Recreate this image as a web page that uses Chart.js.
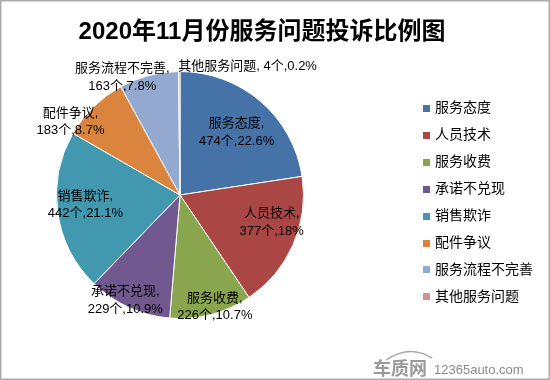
<!DOCTYPE html>
<html><head><meta charset="utf-8">
<script src="https://cdn.jsdelivr.net/npm/chart.js@4"></script>
<style>html,body{margin:0;padding:0;background:#fff}#wrap{width:550px;height:380px;position:relative}</style>
</head><body><div id="wrap"><canvas id="c" width="550" height="380"></canvas></div>
<script>
const titleText = '2020年11月份服务问题投诉比例图';
const categories = ['服务态度','人员技术','服务收费','承诺不兑现','销售欺诈','配件争议','服务流程不完善','其他服务问题'];
const counts = [474, 377, 226, 229, 442, 183, 163, 4];
const percentLabels = ['22.6%','18%','10.7%','10.9%','21.1%','8.7%','7.8%','0.2%'];
const sliceColors = ['#4572A7','#AA4643','#89A54E','#71588F','#4198AF','#DB843D','#93A9CF','#D19392'];
// label placement (fraction of radius, angular shift in degrees)
const labelRadius = [0.685, 0.775, 0.95, 0.963, 0.77, 1.065, 1.06, 1.04];
const labelAngleShift = [1.4, -7.1, -2.7, 2.95, 2, -12, -11.5, 0];

const FONT = "'Liberation Sans','Noto Sans CJK SC',sans-serif";

const decor = {
  id: 'decor',
  beforeDraw(chart) {
    const ctx = chart.ctx;
    ctx.save();
    ctx.fillStyle = '#fff';
    ctx.fillRect(0, 0, chart.width, chart.height);
    ctx.restore();
  },
  afterDatasetsDraw(chart) {
    const ctx = chart.ctx;
    const meta = chart.getDatasetMeta(0);
    ctx.save();
    ctx.fillStyle = '#000';
    ctx.font = '13px ' + FONT;
    ctx.textBaseline = 'middle';
    meta.data.forEach((arc, i) => {
      const p = arc.getProps(['x','y','startAngle','endAngle','outerRadius'], true);
      const mid = (p.startAngle + p.endAngle) / 2 + labelAngleShift[i] * Math.PI / 180;
      const r = p.outerRadius * labelRadius[i];
      const px = p.x + Math.cos(mid) * r;
      const py = p.y + Math.sin(mid) * r;
      if (i === categories.length - 1) {
        ctx.textAlign = 'left';
        ctx.fillText(categories[i] + ', ' + counts[i] + '个,' + percentLabels[i], px - 1, py);
      } else {
        ctx.textAlign = 'center';
        ctx.fillText(categories[i] + ',', px, py - 8.75);
        ctx.fillText(counts[i] + '个,' + percentLabels[i], px, py + 8.75);
      }
    });
    ctx.restore();
  },
  afterDraw(chart) {
    const ctx = chart.ctx;
    ctx.save();
    // title
    ctx.fillStyle = '#000';
    ctx.font = 'bold 24px ' + FONT;
    ctx.textAlign = 'center';
    ctx.textBaseline = 'middle';
    ctx.fillText(titleText, 262, 32);
    // legend
    ctx.font = '14px ' + FONT;
    ctx.textAlign = 'left';
    categories.forEach((c, i) => {
      const y = 108.5 + i * 26.9;
      ctx.fillStyle = sliceColors[i];
      ctx.fillRect(423, Math.round(y - 3.5), 7, 7);
      ctx.fillStyle = '#000';
      ctx.fillText(c, 435, y);
    });
    // watermark
    ctx.fillStyle = '#9a9a9a';
    ctx.strokeStyle = '#a8a8a8';
    ctx.lineWidth = 1.5;
    ctx.beginPath();
    ctx.moveTo(386, 360);
    ctx.quadraticCurveTo(410, 344, 432, 358);
    ctx.stroke();
    ctx.font = 'bold 18px ' + FONT;
    ctx.textBaseline = 'alphabetic';
    ctx.fillText('车质网', 373, 375);
    ctx.font = '13px ' + FONT;
    ctx.fillStyle = '#8a8a8a';
    ctx.fillText('12365auto.com', 434, 374);
    // border
    ctx.strokeStyle = '#ababab';
    ctx.lineWidth = 1.5;
    ctx.strokeRect(0.75, 0.75, chart.width - 1.5, chart.height - 1.5);
    ctx.restore();
  }
};

new Chart(document.getElementById('c'), {
  type: 'pie',
  data: {
    labels: categories,
    datasets: [{
      data: counts,
      backgroundColor: sliceColors,
      borderColor: '#ffffff',
      borderWidth: 1
    }]
  },
  options: {
    responsive: false,
    animation: false,
    devicePixelRatio: 1,
    layout: { padding: { left: 56, right: 246, top: 71, bottom: 61 } },
    plugins: {
      legend: { display: false },
      title: { display: false },
      tooltip: { enabled: false }
    }
  },
  plugins: [decor]
});
</script>
</body></html>
